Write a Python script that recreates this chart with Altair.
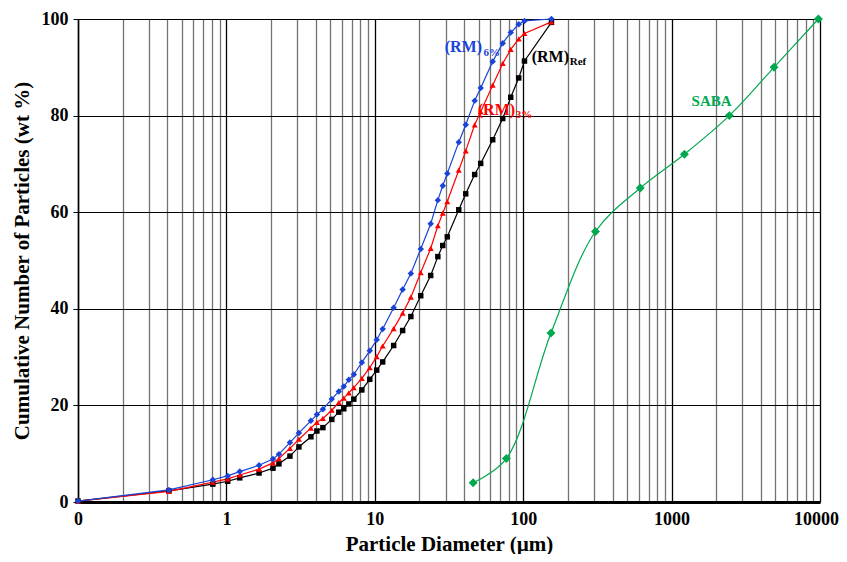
import altair as alt
import pandas as pd

# Shared particle-size grid (µm) for the three RM series
diam = [0.1, 0.41, 0.81, 1.02, 1.23, 1.66, 2.06, 2.26, 2.68, 3.08,
        3.71, 4.07, 4.47, 5.13, 5.72, 6.18, 6.68, 7.22, 8.18, 9.25,
        10.3, 11.3, 13.4, 15.4, 17.5, 20.4, 23.8, 26.6, 28.7, 30.8,
        36.8, 41.0, 47.1, 51.7, 62.3, 72.8, 82.4, 93.3, 102, 155]

rm_ref = [0.2, 2.3, 3.7, 4.3, 5.0, 6.0, 7.0, 7.9, 9.5, 11.4,
          13.5, 14.7, 15.4, 17.1, 18.6, 19.3, 20.3, 21.3, 23.2, 25.4,
          27.3, 29.0, 32.4, 35.5, 38.4, 42.7, 46.9, 50.8, 53.1, 54.9,
          60.5, 63.8, 67.8, 70.1, 75.0, 79.4, 83.8, 87.8, 91.3, 99.3]

rm_3 = [0.2, 2.2, 4.1, 4.8, 5.6, 6.8, 8.1, 9.0, 11.1, 13.0,
        15.3, 16.5, 17.3, 19.0, 20.6, 21.5, 22.6, 23.7, 25.6, 27.8,
        30.1, 32.3, 35.9, 39.1, 42.4, 47.5, 52.5, 57.2, 59.8, 62.2,
        68.7, 72.7, 78.1, 80.8, 86.3, 90.8, 93.7, 95.9, 97.0, 99.4]

rm_6 = [0.2, 2.5, 4.6, 5.4, 6.3, 7.6, 8.9, 9.9, 12.3, 14.3,
        16.8, 18.1, 19.2, 21.3, 22.9, 23.9, 25.3, 26.4, 28.9, 31.3,
        33.6, 35.8, 40.2, 44.0, 47.3, 52.4, 57.6, 62.5, 65.5, 68.0,
        74.5, 78.1, 83.1, 85.7, 91.2, 95.0, 97.2, 98.9, 99.6, 100.0]

saba_d = [46, 77, 154, 307, 615, 1220, 2450, 4900, 9750]
saba_y = [4, 9, 35, 56, 65, 72, 80, 90, 100]

series_names = ["(RM)Ref", "(RM)3%", "(RM)6%"]
series_colors = ["#000000", "#ff0000", "#1a44d8"]
series_shapes = ["square", "triangle-up", "diamond"]
series_sizes = [30, 42, 32]
green = "#00a84f"

# annotation labels (main text + subscript)
ann_text = ["(RM)", "6%", "(RM)", "Ref", "(RM)", "3%", "SABA"]
ann_x = [29.6, 54, 114, 206, 49.4, 89, 1364]
ann_y = [93.2, 92.4, 91.1, 90.5, 80.1, 79.4, 82.0]
ann_color = ["#1a44d8", "#1a44d8", "#000000", "#000000", "#ff0000", "#ff0000", green]
ann_size = [16, 11, 16, 11, 16, 11, 15]

FONT = "Liberation Serif"

rows = []
for name, vals in zip(series_names, [rm_ref, rm_3, rm_6]):
    for d, v in zip(diam, vals):
        rows.append({"d": d, "v": v, "s": name})
df = pd.DataFrame(rows)
saba = pd.DataFrame({"d": saba_d, "v": saba_y})
ann = pd.DataFrame({"x": ann_x, "y": ann_y, "t": ann_text, "c": ann_color, "fs": ann_size})

grid_vals = [round(k * 10 ** e, 6) for e in range(-1, 4) for k in range(1, 10)] + [10000]
is_major = "abs(log(datum.value)/LN10 - round(log(datum.value)/LN10)) < 0.001"

xscale = alt.Scale(type="log", domain=[0.1, 10000], nice=False)
yscale = alt.Scale(domain=[0, 100], nice=False, zero=True)

xaxis = alt.Axis(
    values=grid_vals,
    labelExpr=f"{is_major} ? (datum.value < 0.5 ? '0' : format(datum.value, 'd')) : ''",
    title="Particle Diameter (µm)",
    grid=True,
    gridColor={"condition": {"test": is_major, "value": "#000000"}, "value": "#737373"},
    gridWidth=1.3,
    ticks=False,
    labelPadding=8,
    labelOverlap=False,
    labelBound=False,
    labelFlush=False,
    labelOffset={"condition": {"test": "datum.value > 5000", "value": -4}, "value": 0},
    domainColor="#000000",
    domainWidth=3,
    labelFont=FONT, labelFontSize=18, labelFontWeight="bold", labelColor="#000000",
    titleFont=FONT, titleFontSize=21, titleFontWeight="bold", titleColor="#000000",
    titleBaseline="bottom", titleY=52,
)

yaxis = alt.Axis(
    values=[0, 20, 40, 60, 80, 100],
    title="Cumulative Number of Particles (wt %)",
    grid=True, gridColor="#000000", gridWidth=1.2,
    tickColor="#000000", tickSize=5, labelPadding=5,
    domainColor="#000000", domainWidth=1.5,
    labelFont=FONT, labelFontSize=18, labelFontWeight="bold", labelColor="#000000",
    titleFont=FONT, titleFontSize=21, titleFontWeight="bold", titleColor="#000000",
    titlePadding=9,
)

x = alt.X("d:Q", scale=xscale, axis=xaxis)
y = alt.Y("v:Q", scale=yscale, axis=yaxis)

color = alt.Color("s:N", scale=alt.Scale(domain=series_names, range=series_colors), legend=None)
shape = alt.Shape("s:N", scale=alt.Scale(domain=series_names, range=series_shapes), legend=None)

rm_lines = alt.Chart(df).mark_line(strokeWidth=1.2).encode(x=x, y=y, color=color, detail="s:N")
rm_pts = alt.Chart(df).mark_point(filled=True, opacity=1).encode(
    x=x, y=y, color=color, shape=shape,
    size=alt.Size("s:N", scale=alt.Scale(domain=series_names, range=series_sizes), legend=None),
)

saba_line = alt.Chart(saba).mark_line(color=green, strokeWidth=1.2, interpolate="catmull-rom").encode(x=x, y=y)
saba_pts = alt.Chart(saba).mark_point(filled=True, opacity=1, shape="diamond", size=80, color=green).encode(x=x, y=y)

labels = alt.Chart(ann).mark_text(font=FONT, fontWeight="bold", align="left", baseline="alphabetic").encode(
    x=alt.X("x:Q", scale=xscale),
    y=alt.Y("y:Q", scale=yscale),
    text="t:N",
    color=alt.Color("c:N", scale=None),
    size=alt.Size("fs:Q", scale=None),
)

chart = alt.layer(saba_line, saba_pts, rm_lines, rm_pts, labels).properties(
    width=742, height=483,
    autosize=alt.AutoSizeParams(type="none"),
    padding={"left": 70, "top": 11, "right": 19, "bottom": 52},
).configure_view(strokeWidth=0).configure(background="white")

chart.save("out.html", embed_options={"renderer": "svg", "actions": False})
